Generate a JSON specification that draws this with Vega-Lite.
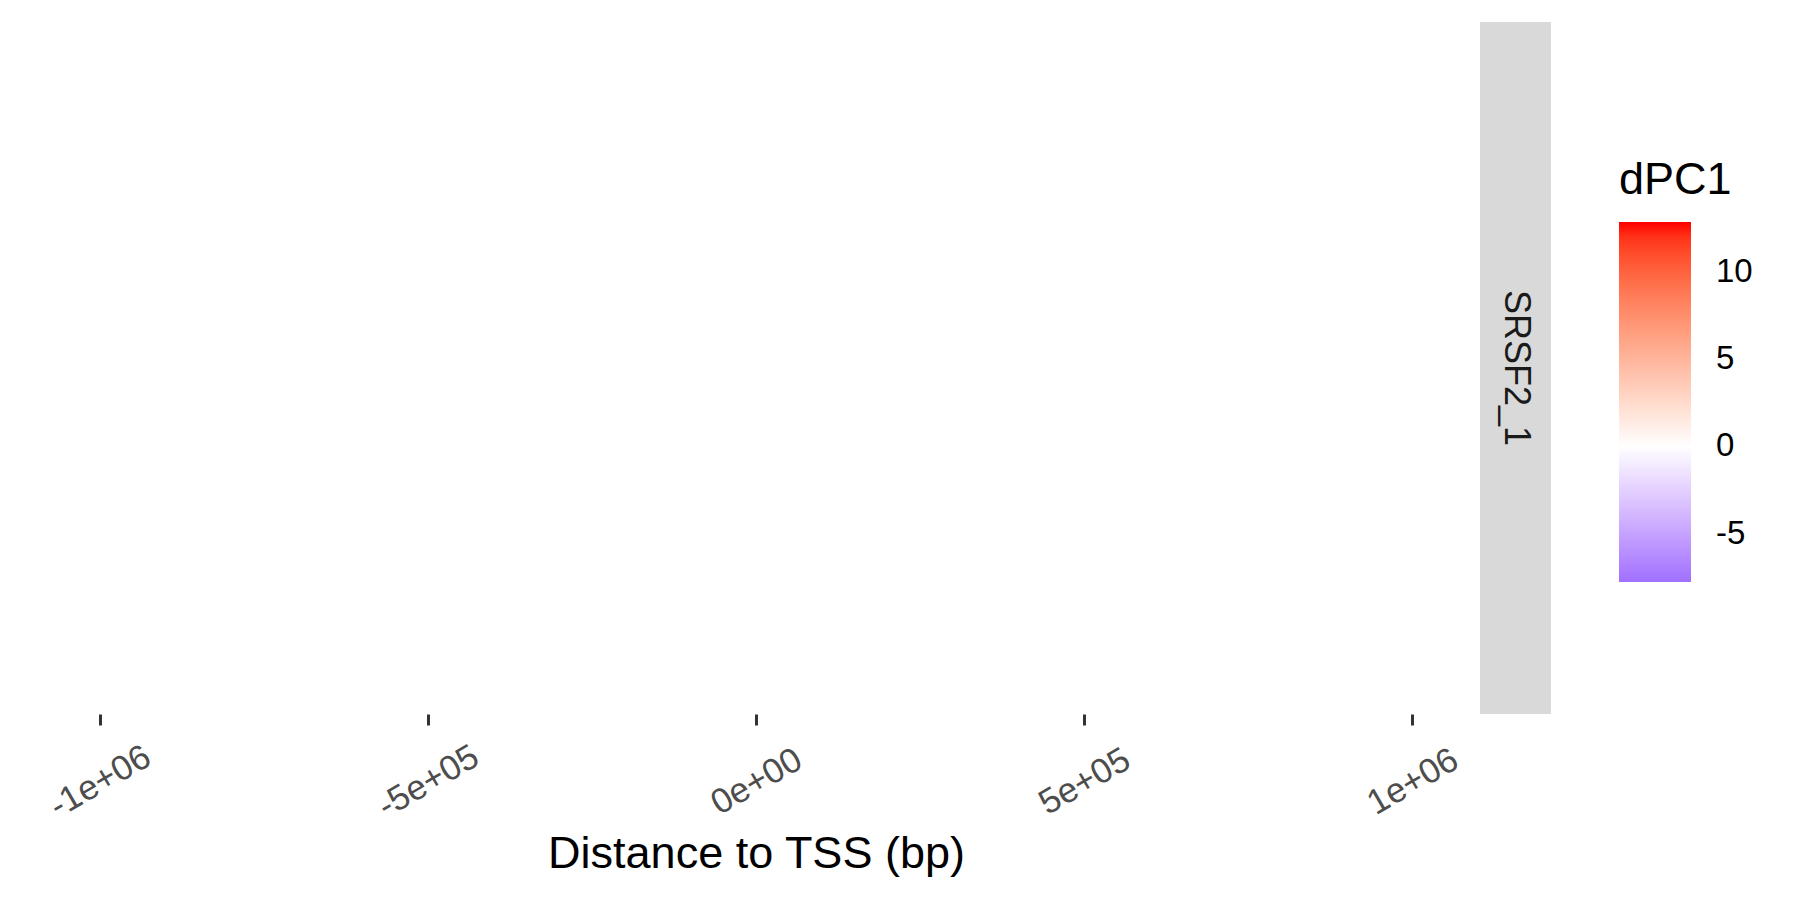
{
  "$schema": "https://vega.github.io/schema/vega-lite/v6.json",
  "padding": {"left": 34, "top": 22, "right": 0, "bottom": 0},
  "autosize": {"type": "pad"},
  "background": "white",
  "config": {
    "view": {"stroke": null},
    "font": "Liberation Sans",
    "concat": {"spacing": 2}
  },
  "datasets": {
    "tiles": [
      {"distance": -850000, "dPC1": -7.77},
      {"distance": -300000, "dPC1": 1.2},
      {"distance": 0, "dPC1": 0.4},
      {"distance": 250000, "dPC1": 4.6},
      {"distance": 700000, "dPC1": 12.85}
    ],
    "strip": [{"panel": "SRSF2_1"}]
  },
  "hconcat": [
    {
      "width": 1444,
      "height": 692,
      "data": {"name": "tiles"},
      "mark": {"type": "rect", "strokeWidth": 0},
      "encoding": {
        "x": {
          "field": "distance",
          "type": "quantitative",
          "scale": {"domain": [-1100000, 1100000], "nice": false, "zero": false},
          "axis": {
            "values": [-1000000, -500000, 0, 500000, 1000000],
            "labelExpr": "datum.value == -1000000 ? '-1e+06' : datum.value == -500000 ? '-5e+05' : datum.value == 0 ? '0e+00' : datum.value == 500000 ? '5e+05' : '1e+06'",
            "labelAngle": -30,
            "labelAlign": "center",
            "labelBaseline": "middle",
            "labelPadding": 56,
            "labelFontSize": 35,
            "labelColor": "#4D4D4D",
            "labelOverlap": false,
            "labelFlush": false,
            "tickSize": 11,
            "tickWidth": 3,
            "tickColor": "#333333",
            "domain": false,
            "grid": false,
            "title": "Distance to TSS (bp)",
            "titleFontSize": 45,
            "titleFontWeight": "normal",
            "titleColor": "#000000",
            "titlePadding": 7
          }
        },
        "x2": {"field": "distance"},
        "color": {
          "field": "dPC1",
          "type": "quantitative",
          "scale": {
            "domain": [-7.77, 0, 12.85],
            "range": ["#A070FF", "#FFFFFF", "#FF0000"],
            "interpolate": "lab"
          },
          "legend": {
            "orient": "none",
            "legendX": 1585,
            "legendY": 136,
            "title": "dPC1",
            "titleFontSize": 45,
            "titleFontWeight": "normal",
            "titleColor": "#000000",
            "titlePadding": 19,
            "gradientLength": 360,
            "gradientThickness": 72,
            "gradientStrokeWidth": 0,
            "values": [-5, 0, 5, 10],
            "labelExpr": "datum.value < 0 ? '-' + abs(datum.value) : '' + datum.value",
            "labelFontSize": 33,
            "labelColor": "#000000",
            "labelOffset": 25,
            "labelOverlap": false,
            "padding": 0
          }
        }
      }
    },
    {
      "width": 71,
      "height": 692,
      "view": {"fill": "#D9D9D9", "stroke": null},
      "data": {"name": "strip"},
      "mark": {"type": "text", "angle": 90, "fontSize": 36, "color": "#1A1A1A", "align": "center", "baseline": "middle"},
      "encoding": {
        "x": {"field": "panel", "type": "nominal", "axis": null},
        "y": {"field": "panel", "type": "nominal", "axis": null},
        "text": {"field": "panel"}
      }
    }
  ]
}
